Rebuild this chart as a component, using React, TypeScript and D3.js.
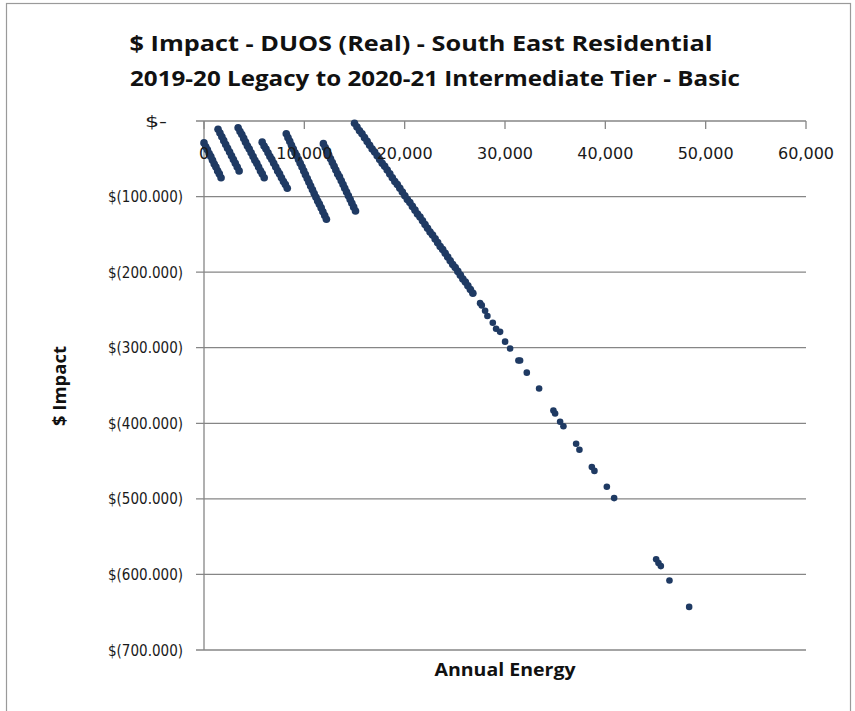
import React from 'react';
import * as d3 from 'd3';

const W = 855;
const H = 711;

const titleLines = [
  '$ Impact - DUOS (Real) - South East Residential',
  '2019-20 Legacy to 2020-21 Intermediate Tier - Basic',
];
const xAxisTitle = 'Annual Energy';
const yAxisTitle = '$ Impact';

const xTicks = [0, 10000, 20000, 30000, 40000, 50000, 60000];
const xTickLabels = ['0', '10,000', '20,000', '30,000', '40,000', '50,000', '60,000'];
const yTicks = [0, -100, -200, -300, -400, -500, -600, -700];
const yTickLabels = ['$-', '$(100.000)', '$(200.000)', '$(300.000)', '$(400.000)', '$(500.000)', '$(600.000)', '$(700.000)'];

// [annual energy, $ impact]
const stripe1: [number, number][] = [
  [0, -29], [170, -34], [340, -38], [510, -43], [680, -47], [850, -52],
  [1020, -57], [1190, -61], [1360, -66], [1530, -70], [1700, -75],
];
const stripe2: [number, number][] = [
  [1400, -11], [1590, -16], [1780, -21], [1970, -26], [2160, -31], [2350, -36],
  [2550, -41], [2740, -46], [2930, -51], [3120, -56], [3310, -61], [3500, -66],
];
const stripe3: [number, number][] = [
  [3400, -9], [3590, -14], [3770, -18], [3960, -23], [4140, -28], [4330, -33],
  [4510, -37], [4700, -42], [4890, -47], [5070, -52], [5260, -56], [5440, -61],
  [5630, -66], [5810, -70], [6000, -75],
];
const stripe4: [number, number][] = [
  [5800, -28], [5990, -33], [6180, -37], [6380, -42], [6570, -47], [6760, -51],
  [6950, -56], [7150, -61], [7340, -66], [7530, -70], [7720, -75], [7920, -80],
  [8110, -84], [8300, -89],
];
const stripe5: [number, number][] = [
  [8200, -17], [8370, -22], [8550, -27], [8720, -32], [8900, -37], [9070, -42],
  [9240, -46], [9420, -51], [9590, -56], [9770, -61], [9940, -66], [10110, -71],
  [10290, -76], [10460, -81], [10630, -86], [10810, -91], [10980, -96], [11160, -101],
  [11330, -106], [11500, -110], [11680, -115], [11850, -120], [12030, -125], [12200, -130],
];
const stripe6: [number, number][] = [
  [11900, -30], [12080, -35], [12260, -40], [12430, -45], [12610, -50], [12790, -55],
  [12970, -60], [13140, -65], [13320, -70], [13500, -74], [13680, -79], [13860, -84],
  [14030, -89], [14210, -94], [14390, -99], [14570, -104], [14740, -109], [14920, -114],
  [15100, -119],
];
const stripe7: [number, number][] = [
  [15000, -3], [15250, -8], [15500, -13], [15750, -17], [16000, -22], [16260, -27],
  [16510, -32], [16760, -37], [17010, -41], [17260, -46], [17510, -51], [17760, -56],
  [18010, -60], [18260, -65], [18520, -70], [18770, -75], [19020, -80], [19270, -84],
  [19520, -89], [19770, -94], [20020, -99], [20270, -104], [20520, -108], [20770, -113],
  [21030, -118], [21280, -123], [21530, -127], [21780, -132], [22030, -137], [22280, -142],
  [22530, -147], [22780, -151], [23040, -156], [23290, -161], [23540, -166], [23790, -170],
  [24040, -175], [24290, -180], [24540, -185], [24790, -190], [25040, -194], [25300, -199],
  [25550, -204], [25800, -209], [26050, -213], [26300, -218], [26550, -223], [26800, -228],
];
const scattered: [number, number][] = [
  [27517, -241], [27687, -244], [28016, -251], [28245, -258], [28784, -267], [29113, -275],
  [29511, -279], [30010, -292], [30508, -301], [31336, -317], [31505, -317], [32173, -333],
  [33400, -354], [34825, -383], [34995, -387], [35494, -398], [35823, -404], [37089, -427],
  [37418, -435], [38654, -458], [38913, -463], [40150, -484], [40877, -499], [45065, -580],
  [45294, -585], [45533, -589], [46391, -608], [48355, -643],
];

const stripes = [stripe1, stripe2, stripe3, stripe4, stripe5, stripe6, stripe7];

const POINT_COLOR = '#1f3a63';
const GRID_COLOR = '#868686';

export default function App() {
  const x = d3.scaleLinear().domain([0, 60000]).range([204, 806]);
  const y = d3.scaleLinear().domain([0, -700]).range([121, 650]);
  const tickFont = '"DejaVu Sans", Verdana, sans-serif';
  const titleFont = '"Open Sans", "Liberation Sans", sans-serif';
  const titleCenters = [421, 435];
  const titleWidths = [583, 610];

  return (
    <svg width={W} height={H} style={{ position: 'absolute', left: 0, top: 0, background: '#fff' }}>
      <rect x={0} y={0} width={W} height={H} fill="#fff" />
      <rect x={6.5} y={3.5} width={844} height={712} fill="none" stroke="#9a9a9a" strokeWidth={1.2} />

      {/* title */}
      {titleLines.map((t, i) => (
        <text
          key={t}
          x={titleCenters[i]}
          y={51 + i * 35}
          textAnchor="middle"
          fontFamily={titleFont}
          fontWeight="bold"
          fontSize={22}
          fill="#111"
          textLength={titleWidths[i]}
          lengthAdjust="spacingAndGlyphs"
        >
          {t}
        </text>
      ))}

      {/* horizontal gridlines */}
      {yTicks.slice(1).map((v) => (
        <line key={v} x1={196} x2={x(60000)} y1={y(v)} y2={y(v)} stroke={GRID_COLOR} strokeWidth={1.3} />
      ))}
      {/* x axis line at 0 */}
      <line x1={196} x2={x(60000)} y1={y(0)} y2={y(0)} stroke={GRID_COLOR} strokeWidth={1.3} />
      {/* y axis line */}
      <line x1={x(0)} x2={x(0)} y1={y(0)} y2={y(-700)} stroke={GRID_COLOR} strokeWidth={1.3} />
      {/* x ticks */}
      {xTicks.map((v) => (
        <line key={v} x1={x(v)} x2={x(v)} y1={y(0)} y2={y(0) + 8} stroke={GRID_COLOR} strokeWidth={1.3} />
      ))}

      {/* y tick labels */}
      {yTicks.map((v, i) => (
        <text
          key={v}
          x={i === 0 ? 167 : 183}
          y={y(v)}
          dy="0.35em"
          textAnchor="end"
          fontFamily={tickFont}
          fontSize={16}
          fill="#1a1a1a"
          textLength={i === 0 ? 22 : 75}
          lengthAdjust="spacingAndGlyphs"
        >
          {yTickLabels[i]}
        </text>
      ))}

      {/* points */}
      {stripes.map((s, si) =>
        s.map((p, i) => (
          <circle key={`s${si}-${i}`} cx={x(p[0])} cy={y(p[1])} r={3.8} fill={POINT_COLOR} />
        ))
      )}
      {scattered.map((p, i) => (
        <circle key={`p${i}`} cx={x(p[0])} cy={y(p[1])} r={3.3} fill={POINT_COLOR} />
      ))}

      {/* x tick labels (drawn over points) */}
      {xTicks.map((v, i) => (
        <text
          key={v}
          x={x(v)}
          y={159}
          textAnchor="middle"
          fontFamily={tickFont}
          fontSize={16}
          fill="#1a1a1a"
        >
          {xTickLabels[i]}
        </text>
      ))}

      {/* axis titles */}
      <text
        x={505}
        y={676}
        textAnchor="middle"
        fontFamily={titleFont}
        fontWeight="bold"
        fontSize={18}
        fill="#111"
        textLength={141}
        lengthAdjust="spacingAndGlyphs"
      >
        {xAxisTitle}
      </text>
      <text
        transform={`translate(66, 386) rotate(-90)`}
        textAnchor="middle"
        fontFamily={titleFont}
        fontWeight="bold"
        fontSize={18}
        fill="#111"
        textLength={80}
        lengthAdjust="spacingAndGlyphs"
      >
        {yAxisTitle}
      </text>
    </svg>
  );
}
